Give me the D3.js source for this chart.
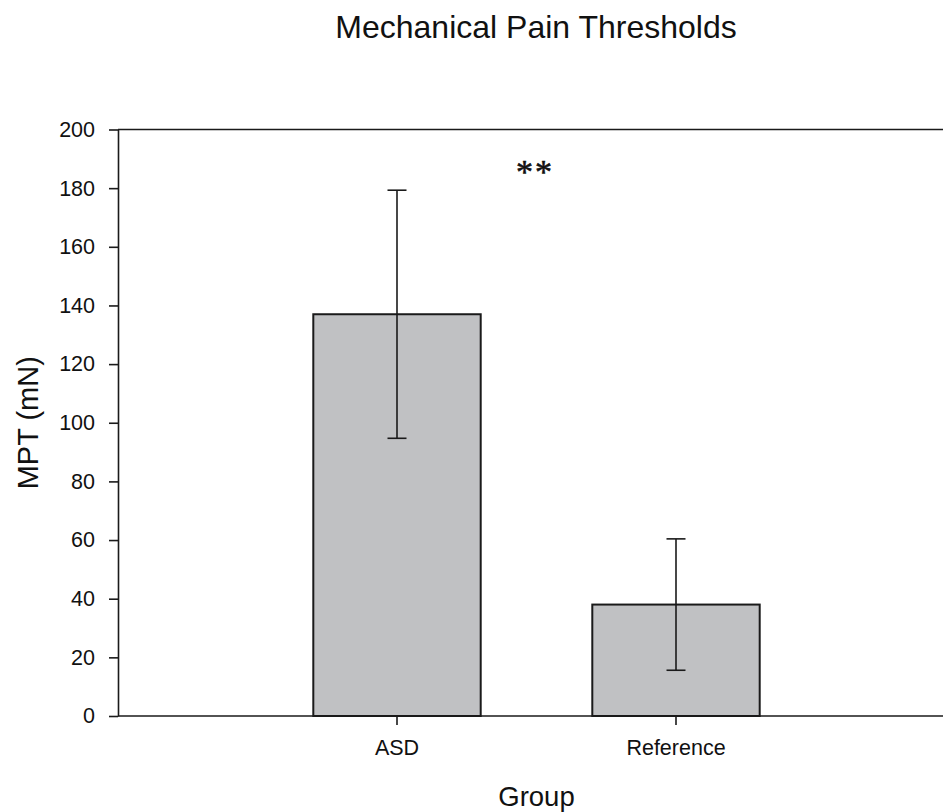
<!DOCTYPE html>
<html>
<head>
<meta charset="utf-8">
<script src="https://cdn.jsdelivr.net/npm/d3@7"></script>
<style>
  body { margin: 0; background: #fff; }
  svg { display: block; }
</style>
</head>
<body>
<div id="chart"></div>
<script>
// Data
const groups = ["ASD", "Reference"];
const means = [137, 38];
const errors = [42.3, 22.4];
const yTicks = [0, 20, 40, 60, 80, 100, 120, 140, 160, 180, 200];

const width = 943, height = 812;
const margin = { top: 129.5, left: 118, bottom: 96 };

const svg = d3.select("#chart").append("svg")
    .attr("width", width)
    .attr("height", height)
    .style("font-family", "'Liberation Sans', Arial, sans-serif");

// x axis runs past the right edge of the picture (three equal steps)
const x = d3.scaleBand()
    .domain(groups)
    .range([margin.left, margin.left + 837])
    .paddingInner(0.4)
    .paddingOuter(0.7);

const y = d3.scaleLinear()
    .domain([0, 200])
    .range([height - margin.bottom, margin.top]);

const rows = groups.map((g, i) => ({ group: g, mean: means[i], err: errors[i] }));

// Bars
svg.append("g").selectAll("rect")
    .data(rows)
    .enter()
    .append("rect")
    .attr("x", d => x(d.group))
    .attr("y", d => y(d.mean))
    .attr("width", x.bandwidth())
    .attr("height", d => y(0) - y(d.mean))
    .attr("fill", "#c0c1c3")
    .attr("stroke", "#1a1a1a")
    .attr("stroke-width", 2);

// Error bars
const eb = svg.append("g")
    .attr("stroke", "#1a1a1a")
    .attr("stroke-width", 1.6);
const cx = d => x(d.group) + x.bandwidth() / 2;
eb.selectAll("line.stem")
    .data(rows)
    .enter()
    .append("line")
    .attr("class", "stem")
    .attr("x1", cx).attr("x2", cx)
    .attr("y1", d => y(d.mean - d.err))
    .attr("y2", d => y(d.mean + d.err));
["top", "bottom"].forEach(side => {
    eb.selectAll("line.cap-" + side)
        .data(rows)
        .enter()
        .append("line")
        .attr("class", "cap-" + side)
        .attr("x1", d => cx(d) - 9.5)
        .attr("x2", d => cx(d) + 9.5)
        .attr("y1", d => y(side === "top" ? d.mean + d.err : d.mean - d.err))
        .attr("y2", d => y(side === "top" ? d.mean + d.err : d.mean - d.err));
});

// Axes
const yAxis = svg.append("g")
    .attr("transform", `translate(${margin.left},0)`)
    .call(d3.axisLeft(y).tickValues(yTicks).tickSize(9).tickPadding(14).tickSizeOuter(0));
const xAxis = svg.append("g")
    .attr("transform", `translate(0,${y(0)})`)
    .call(d3.axisBottom(x).tickSize(9).tickPadding(15).tickSizeOuter(0));
// top frame line
svg.append("line")
    .attr("x1", margin.left).attr("x2", width)
    .attr("y1", y(200)).attr("y2", y(200))
    .attr("stroke", "#1a1a1a").attr("stroke-width", 1.6);

[yAxis, xAxis].forEach(a => {
    a.select(".domain").attr("stroke", "#1a1a1a").attr("stroke-width", 1.6);
    a.selectAll(".tick line").attr("stroke", "#1a1a1a").attr("stroke-width", 1.6);
    a.selectAll(".tick text")
        .attr("fill", "#111")
        .style("font-size", "21.5px")
        .style("font-family", "'Liberation Sans', Arial, sans-serif");
});
xAxis.select(".domain").attr("d", `M${margin.left},0H${width}`);

// Titles
svg.append("text")
    .attr("x", 536)
    .attr("y", 38)
    .attr("text-anchor", "middle")
    .attr("fill", "#111")
    .style("font-size", "32px")
    .text("Mechanical Pain Thresholds");

svg.append("text")
    .attr("transform", `translate(38,${(y(0) + y(200)) / 2}) rotate(-90)`)
    .attr("text-anchor", "middle")
    .attr("fill", "#111")
    .style("font-size", "29px")
    .text("MPT (mN)");

svg.append("text")
    .attr("x", 536.5)
    .attr("y", 806)
    .attr("text-anchor", "middle")
    .attr("fill", "#111")
    .style("font-size", "27.5px")
    .text("Group");

// significance marker
svg.append("text")
    .attr("x", 535)
    .attr("y", 183)
    .attr("text-anchor", "middle")
    .attr("fill", "#111")
    .attr("stroke", "#111")
    .attr("stroke-width", 0.6)
    .attr("letter-spacing", 2)
    .style("font-family", "'Liberation Serif', 'Times New Roman', serif")
    .style("font-size", "34px")
    .text("**");
</script>
</body>
</html>
